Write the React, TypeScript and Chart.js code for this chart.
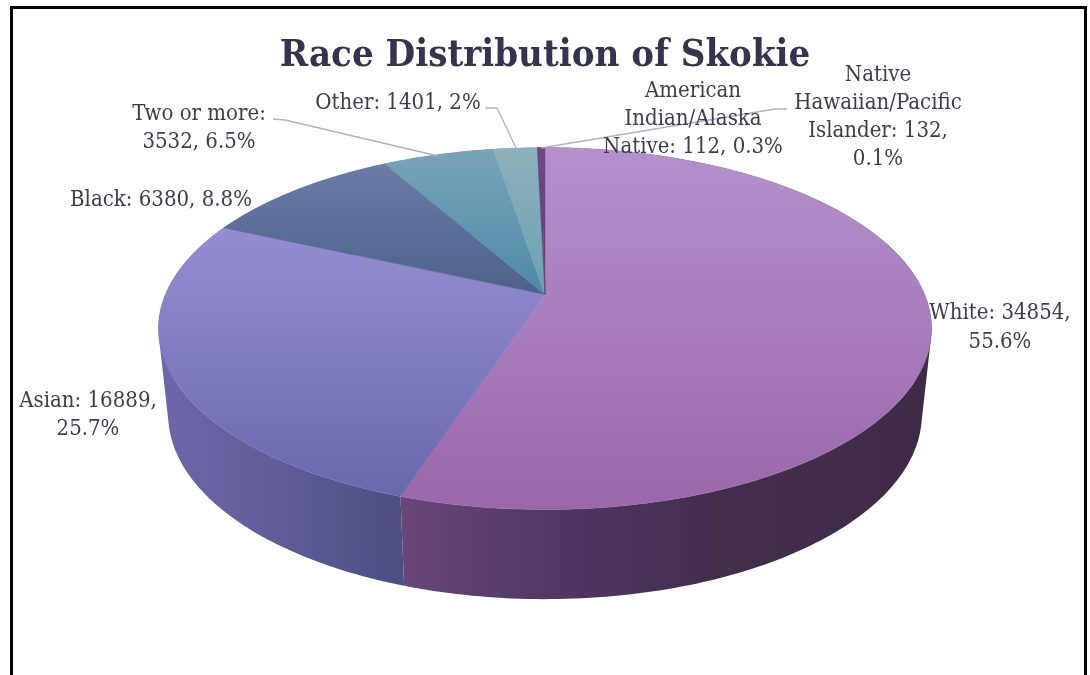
import React, { useEffect, useRef } from "react";
import { Chart, registerables } from "chart.js";

Chart.register(...registerables);

const categories = ["White", "Asian", "Black", "Two or more", "Other", "American Indian/Alaska Native", "Native Hawaiian/Pacific Islander"];
const populations = [34854, 16889, 6380, 3532, 1401, 112, 132];
const titleText = "Race Distribution of Skokie";
const labelLines = [
  ["White: 34854,", "55.6%"],
  ["Asian: 16889,", "25.7%"],
  ["Black: 6380, 8.8%"],
  ["Two or more:", "3532, 6.5%"],
  ["Other: 1401, 2%"],
  ["American", "Indian/Alaska", "Native: 112, 0.3%"],
  ["Native", "Hawaiian/Pacific", "Islander: 132,", "0.1%"],
];

// layout and style
const labelCentres = [1000, 88, 161, 199, 398, 693, 878];
const labelBaselines = [319, 407, 206, 120, 109, 97, 81];
const labelLeading = [29, 28, 0, 28, 0, 28, 28];
const topColours = [
  ["#b491cd", "#9a67aa"],
  ["#958dd2", "#6a69ae"],
  ["#6c7ca6", "#4c6189"],
  ["#7aa3ba", "#4c8aa6"],
  ["#8eb2be", "#6aa0ad"],
  ["#6b4a80", "#5f4272"],
  ["#6b4a80", "#5f4272"],
];
const sideColours = [
  [[0, "#69467a"], [0.27, "#523866"], [0.6, "#422d4d"], [1, "#3f2a48"]],
  [[0, "#6d68aa"], [0.5, "#5f5c98"], [1, "#4d4e84"]],
  [[0, "#4c6189"], [1, "#4c6189"]],
  [[0, "#4c8aa6"], [1, "#4c8aa6"]],
  [[0, "#6aa0ad"], [1, "#6aa0ad"]],
  [[0, "#5f4272"], [1, "#5f4272"]],
  [[0, "#5f4272"], [1, "#5f4272"]],
];
const leaders = [
  null, null, null,
  [[273, 119], [285, 120], [438, 156]],
  [[485, 108], [497, 108], [516, 148]],
  null,
  [[787, 109], [775, 109], [541, 148]],
];

const CX = 545, CY = 294.5, AX = 379.6, KY = 174.6, P = 0.188;
const project = (a: number): [number, number] => {
  const w = 1 - P * Math.sin(a);
  return [CX + (AX * Math.cos(a)) / w, CY + (KY * Math.sin(a)) / w];
};
const lower = ([x, y]: [number, number]): [number, number] => [
  CX + (x - CX) * 0.975,
  y + 86 + (y - 329) * 0.02,
];
const ringPoints = (s: number, e: number) => {
  const n = Math.max(2, Math.ceil(((e - s) * 180) / Math.PI));
  const out: [number, number][] = [];
  for (let i = 0; i <= n; i++) out.push(project(s + ((e - s) * i) / n));
  return out;
};
const signedArea = (q: [number, number][]) =>
  q.reduce((sum, p, i) => {
    const r = q[(i + 1) % q.length];
    return sum + p[0] * r[1] - r[0] * p[1];
  }, 0);

const pie3d = {
  id: "pie3d",
  beforeDatasetsDraw(chart: any) {
    const { ctx } = chart;
    const arcs = chart.getDatasetMeta(0).data;
    ctx.save();
    arcs.forEach((arc: any, i: number) => {
      const { startAngle, endAngle } = arc.getProps(["startAngle", "endAngle"], true);
      const pts = ringPoints(startAngle, endAngle);
      const low = pts.map(lower);
      const xs = pts.map((p) => p[0]);
      const g = ctx.createLinearGradient(Math.min(...xs), 0, Math.max(...xs), 0);
      sideColours[i].forEach(([o, c]: any) => g.addColorStop(o, c));
      ctx.fillStyle = g;
      ctx.beginPath();
      for (let k = 0; k < pts.length - 1; k++) {
        let q: [number, number][] = [pts[k], pts[k + 1], low[k + 1], low[k]];
        if (signedArea(q) < 0) q = q.reverse();
        q.forEach((p, m) => (m ? ctx.lineTo(p[0], p[1]) : ctx.moveTo(p[0], p[1])));
        ctx.closePath();
      }
      ctx.fill("nonzero");
    });
    arcs.forEach((arc: any, i: number) => {
      const { startAngle, endAngle } = arc.getProps(["startAngle", "endAngle"], true);
      const pts = ringPoints(startAngle, endAngle);
      const ys = [...pts.map((p) => p[1]), CY];
      const g = ctx.createLinearGradient(0, Math.min(...ys), 0, Math.max(...ys));
      g.addColorStop(0, topColours[i][0]);
      g.addColorStop(1, topColours[i][1]);
      ctx.fillStyle = g;
      ctx.strokeStyle = g;
      ctx.lineWidth = 0.5;
      ctx.beginPath();
      ctx.moveTo(CX, CY);
      pts.forEach((p) => ctx.lineTo(p[0], p[1]));
      ctx.closePath();
      ctx.fill();
      ctx.stroke();
    });
    ctx.restore();
    return false;
  },
  afterDraw(chart: any) {
    const { ctx } = chart;
    ctx.save();
    ctx.strokeStyle = "#b3aeca";
    ctx.lineWidth = 1.3;
    leaders.forEach((line) => {
      if (!line) return;
      ctx.beginPath();
      line.forEach((p, k) => (k ? ctx.lineTo(p[0], p[1]) : ctx.moveTo(p[0], p[1])));
      ctx.stroke();
    });
    ctx.font = "22px 'DejaVu Serif Condensed', 'DejaVu Serif'";
    ctx.fillStyle = "#3d3c52";
    ctx.textAlign = "center";
    ctx.textBaseline = "alphabetic";
    labelLines.forEach((lines, i) => {
      lines.forEach((t, k) => ctx.fillText(t, labelCentres[i], labelBaselines[i] + k * labelLeading[i]));
    });
    ctx.restore();
  },
};

export default function App() {
  const ref = useRef<HTMLCanvasElement>(null);
  useEffect(() => {
    const chart = new Chart(ref.current!, {
      type: "pie",
      data: {
        labels: categories,
        datasets: [{ data: populations, backgroundColor: topColours.map((c) => c[0]), borderWidth: 0 }],
      },
      options: {
        animation: false,
        responsive: false,
        events: [],
        plugins: {
          legend: { display: false },
          tooltip: { enabled: false },
          title: {
            display: true,
            text: titleText,
            color: "#35344f",
            font: { family: "'DejaVu Serif Condensed', 'DejaVu Serif'", size: 38, weight: "bold" },
            padding: { top: 33, bottom: 10 },
          },
        },
      },
      plugins: [pie3d],
    } as any);
    return () => chart.destroy();
  }, []);
  return (
    <div style={{ position: "fixed", left: 0, top: 0, width: 1090, height: 675, overflow: "hidden", background: "#fff" }}>
      <canvas ref={ref} width={1090} height={675} style={{ display: "block" }} />
      <div style={{ position: "absolute", left: 10, top: 6, width: 1071, height: 800, border: "3px solid #000", boxSizing: "content-box" }} />
    </div>
  );
}
